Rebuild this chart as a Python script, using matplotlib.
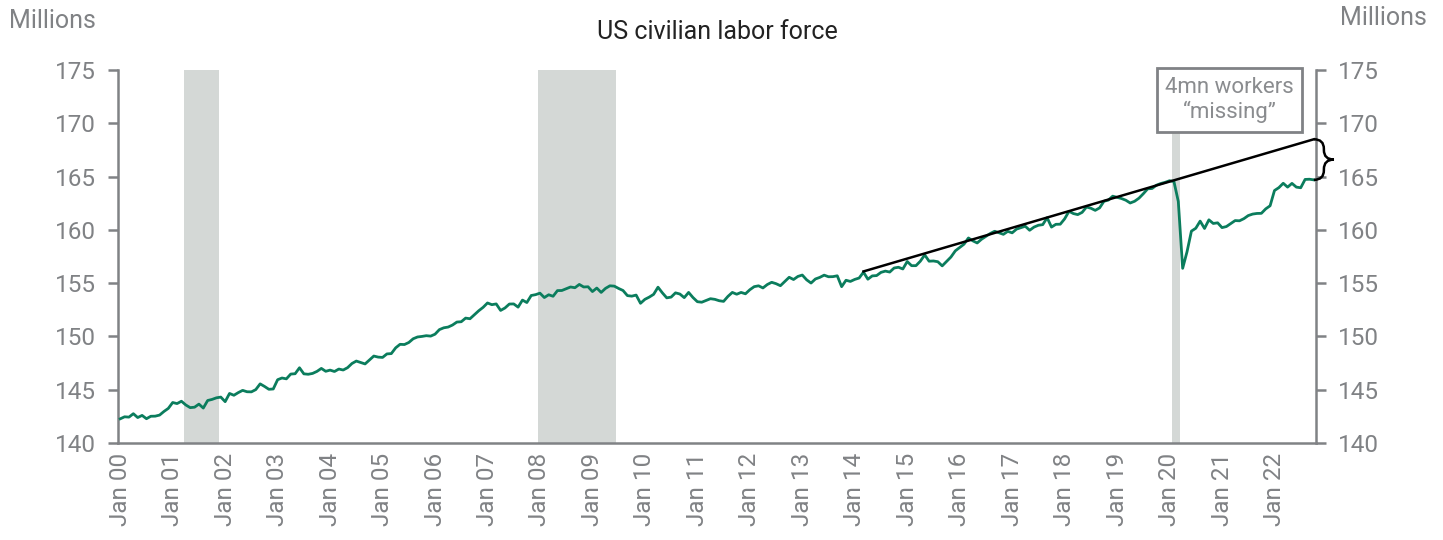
import matplotlib
matplotlib.use("Agg")
import matplotlib.pyplot as plt
from matplotlib.path import Path
from matplotlib.patches import PathPatch, Rectangle
import pandas as pd

plt.rcParams['font.family'] = ['Roboto', 'DejaVu Sans']

# US civilian labor force, millions, monthly Jan 2000 - Oct 2022
labor_force = [
    # 2000
    142.27, 142.46, 142.43, 142.75, 142.39, 142.59, 142.28, 142.51, 142.52, 142.62, 142.96, 143.25,
    # 2001
    143.80, 143.70, 143.92, 143.57, 143.32, 143.36, 143.65, 143.28, 143.99, 144.09, 144.24, 144.31,
    # 2002
    143.88, 144.65, 144.48, 144.73, 144.94, 144.81, 144.80, 145.01, 145.55, 145.31, 145.04, 145.07,
    # 2003
    145.94, 146.10, 146.02, 146.47, 146.50, 147.06, 146.49, 146.45, 146.53, 146.72, 147.00, 146.73,
    # 2004
    146.84, 146.71, 146.94, 146.85, 147.07, 147.46, 147.69, 147.56, 147.42, 147.79, 148.16, 148.06,
    # 2005
    148.03, 148.36, 148.39, 148.93, 149.26, 149.24, 149.43, 149.78, 149.95, 150.00, 150.07, 150.03,
    # 2006
    150.21, 150.64, 150.81, 150.88, 151.07, 151.35, 151.38, 151.72, 151.66, 152.04, 152.41, 152.73,
    # 2007
    153.14, 152.98, 153.05, 152.44, 152.67, 153.04, 153.05, 152.75, 153.41, 153.18, 153.84, 153.92,
    # 2008
    154.06, 153.65, 153.91, 153.77, 154.30, 154.31, 154.47, 154.64, 154.57, 154.88, 154.64, 154.66,
    # 2009
    154.21, 154.54, 154.13, 154.51, 154.75, 154.72, 154.50, 154.31, 153.83, 153.78, 153.88, 153.11,
    # 2010
    153.48, 153.69, 153.95, 154.62, 154.09, 153.62, 153.69, 154.09, 153.98, 153.64, 154.13, 153.65,
    # 2011
    153.26, 153.21, 153.38, 153.54, 153.48, 153.35, 153.29, 153.76, 154.13, 153.96, 154.13, 154.00,
    # 2012
    154.38, 154.67, 154.75, 154.55, 154.87, 155.08, 154.95, 154.76, 155.16, 155.55, 155.34, 155.63,
    # 2013
    155.76, 155.31, 155.01, 155.39, 155.54, 155.75, 155.60, 155.61, 155.69, 154.67, 155.27, 155.16,
    # 2014
    155.35, 155.48, 156.03, 155.37, 155.68, 155.71, 156.01, 156.13, 156.04, 156.42, 156.49, 156.33,
    # 2015
    157.03, 156.64, 156.64, 157.06, 157.65, 157.06, 157.08, 157.01, 156.62, 157.04, 157.45, 158.03,
    # 2016
    158.34, 158.66, 159.24, 158.97, 158.77, 159.12, 159.39, 159.66, 159.87, 159.72, 159.58, 159.86,
    # 2017
    159.72, 160.07, 160.20, 160.34, 159.96, 160.26, 160.43, 160.49, 161.14, 160.26, 160.52, 160.53,
    # 2018
    161.03, 161.74, 161.53, 161.43, 161.64, 162.14, 162.03, 161.83, 162.06, 162.68, 162.79, 163.16,
    # 2019
    163.05, 162.94, 162.78, 162.52, 162.68, 162.97, 163.39, 163.85, 163.88, 164.19, 164.35, 164.46,
    # 2020
    164.61, 164.54, 162.67, 156.39, 157.95, 159.88, 160.15, 160.82, 160.13, 160.94, 160.60, 160.66,
    # 2021
    160.21, 160.31, 160.59, 160.87, 160.85, 161.05, 161.34, 161.48, 161.54, 161.55, 161.97, 162.26,
    # 2022
    163.69, 163.96, 164.37, 164.01, 164.36, 164.01, 163.95, 164.73, 164.75, 164.69,
]

months = pd.period_range('2000-01', periods=len(labor_force), freq='M')

# recessions (shaded months)
recessions = [('2001-04', '2001-11'), ('2008-01', '2009-06'), ('2020-02', '2020-03')]

# pre-pandemic trend line
trend_months = ['2014-03', '2022-10']
trend_values = [156.1, 168.5]

tick_years = list(range(2000, 2023))
tick_labels = ['Jan %02d' % (y % 100) for y in tick_years]

GREY = '#808285'
GREEN = '#0b7d5d'
SHADE = '#d4d8d6'


def idx(m):
    return months.get_loc(pd.Period(m, freq='M'))


def brace(ax, x0, ytop, ybot, w, r):
    h = w / 2
    ym = (ytop + ybot) / 2
    verts = [(x0, ytop),
             (x0 + h, ytop), (x0 + h, ytop - r),
             (x0 + h, ym + r),
             (x0 + h, ym), (x0 + w, ym),
             (x0 + h, ym), (x0 + h, ym - r),
             (x0 + h, ybot + r),
             (x0 + h, ybot), (x0, ybot)]
    codes = [Path.MOVETO,
             Path.CURVE3, Path.CURVE3,
             Path.LINETO,
             Path.CURVE3, Path.CURVE3,
             Path.CURVE3, Path.CURVE3,
             Path.LINETO,
             Path.CURVE3, Path.CURVE3]
    ax.add_patch(PathPatch(Path(verts, codes), fill=False, lw=1.8,
                           edgecolor='black', clip_on=False, zorder=6))


fig = plt.figure(figsize=(14.43, 5.40), dpi=100)
ax = fig.add_axes([0.0818, 0.1796, 0.8302, 0.6908])

n = len(labor_force)
x = list(range(n))

for start, end in recessions:
    ax.axvspan(idx(start) - 0.5, idx(end) + 0.5, color=SHADE, lw=0, zorder=1)

ax.plot(x, labor_force, color=GREEN, lw=2.0, zorder=3)
ax.plot([idx(m) for m in trend_months], trend_values, color='black', lw=1.8, zorder=4)

ax.set_xlim(-0.5, n - 0.5)
ax.set_ylim(140, 175)
ax.set_yticks(range(140, 176, 5))
ax.set_xticks([idx('%d-01' % y) for y in tick_years])
ax.set_xticklabels(tick_labels, rotation=90)

ax.spines['top'].set_visible(False)
for s in ['left', 'right', 'bottom']:
    ax.spines[s].set_color(GREY)
    ax.spines[s].set_linewidth(1.8)
ax.tick_params(axis='x', length=0, pad=7, labelsize=17.5, labelcolor=GREY)
ax.tick_params(axis='y', which='both', direction='out', length=7, width=1.8,
               color=GREY, labelsize=17.5, labelcolor=GREY, pad=9,
               left=True, right=True, labelleft=True, labelright=True)

ax.set_title('US civilian labor force', fontsize=18, color='#222222', pad=22)
fig.text(0.006, 0.962, 'Millions', fontsize=18, color=GREY, ha='left', va='center')
fig.text(0.989, 0.966, 'Millions', fontsize=18, color=GREY, ha='right', va='center')

# "missing workers" box and brace
ax.add_patch(Rectangle((237.2, 169.2), 33.0, 6.0, facecolor='white', edgecolor=GREY,
                       lw=2, clip_on=False, zorder=5))
ax.text(253.7, 172.2, '4mn workers\n\u201cmissing\u201d', fontsize=16, color='#8a8c8f',
        ha='center', va='center', linespacing=1.15, zorder=6)
brace(ax, n - 1, trend_values[-1], labor_force[-1], 4.6, 0.9)

fig.savefig('out.png', dpi=100)
